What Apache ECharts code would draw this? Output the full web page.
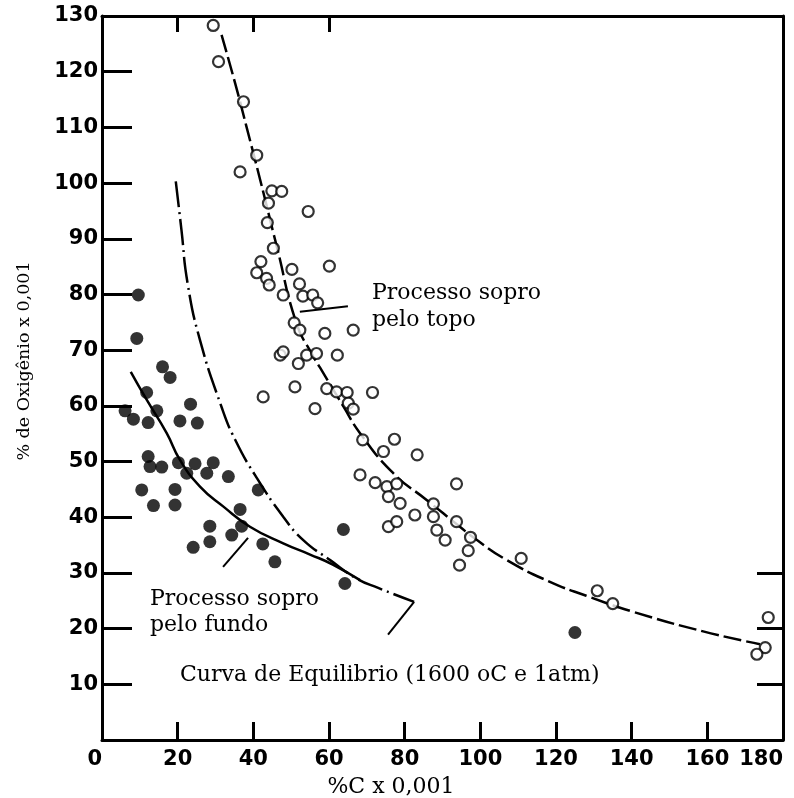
<!DOCTYPE html>
<html>
<head>
<meta charset="utf-8">
<script src="https://cdn.jsdelivr.net/npm/echarts@6/dist/echarts.min.js"></script>
<style>
  html, body { margin: 0; padding: 0; background: #fff; }
  #chart { width: 794px; height: 798px; }
</style>
</head>
<body>
<div id="chart"></div>
<script>
// pontos: [%C x 0,001, %O x 0,001]
var topoPoints = [
  [29.4, 128.3], [30.8, 121.8], [37.4, 114.6], [40.9, 105.0], [36.5, 102.0],
  [44.9, 98.6], [47.5, 98.5], [44.0, 96.4], [54.5, 94.9], [43.7, 92.9],
  [45.3, 88.3], [42.0, 85.9], [60.1, 85.1], [40.9, 83.9], [43.5, 82.9],
  [44.2, 81.7], [50.2, 84.5], [52.2, 81.9], [47.9, 79.9], [53.1, 79.7],
  [55.7, 79.9], [57.0, 78.5], [50.8, 74.9], [52.3, 73.6], [58.9, 73.0],
  [66.4, 73.6], [47.1, 69.1], [47.9, 69.7], [51.9, 67.6], [54.1, 69.1],
  [56.7, 69.4], [62.2, 69.1], [42.6, 61.6], [51.0, 63.4], [56.3, 59.5],
  [59.4, 63.1], [62.0, 62.5], [64.8, 62.4], [65.1, 60.5], [66.4, 59.4],
  [71.5, 62.4], [68.9, 53.9], [77.3, 54.0], [74.4, 51.8], [83.3, 51.2],
  [68.2, 47.6], [72.2, 46.2], [75.3, 45.5], [77.9, 46.0], [75.7, 43.7],
  [78.8, 42.5], [82.7, 40.4], [87.6, 42.4], [87.6, 40.1], [75.7, 38.3],
  [77.9, 39.2], [88.5, 37.7], [90.7, 35.9], [93.7, 46.0], [93.7, 39.2],
  [97.4, 36.4], [96.8, 34.0], [94.5, 31.4], [110.8, 32.6], [130.9, 26.8],
  [135.0, 24.5], [176.1, 22.0], [175.3, 16.6], [173.1, 15.4]
];
var fundoPoints = [
  [9.6, 79.9], [9.2, 72.1], [16.0, 67.0], [18.0, 65.1], [11.8, 62.4],
  [23.4, 60.3], [6.1, 59.1], [8.3, 57.6], [14.5, 59.1], [12.2, 57.0],
  [20.6, 57.3], [25.2, 56.9], [12.2, 50.9], [12.7, 49.1], [15.8, 49.0],
  [20.2, 49.8], [24.6, 49.6], [29.4, 49.8], [22.4, 47.9], [27.7, 47.9],
  [33.4, 47.3], [10.5, 44.9], [19.3, 45.0], [13.6, 42.1], [19.3, 42.2],
  [36.5, 41.4], [41.3, 44.9], [28.5, 38.4], [34.3, 36.8], [36.9, 38.4],
  [28.5, 35.6], [24.1, 34.6], [42.5, 35.2], [45.7, 32.0], [63.8, 37.8],
  [64.2, 28.1], [125.0, 19.3]
];
var topoCurve = [
  [31.6, 126.6], [35.2, 117.9], [38.2, 110.1], [41.8, 100.6], [46.2, 88.6],
  [51.4, 74.8], [55.4, 69.4], [57.6, 66.9], [63.8, 59.9], [68.2, 55.1],
  [77.0, 47.9], [85.8, 43.1], [94.6, 38.3], [98.1, 36.4], [107.0, 32.3],
  [118.4, 28.4], [128.0, 25.9], [140.0, 23.1], [158.9, 19.5], [173.9, 17.2]
];
var fundoCurve = [
  [7.6, 66.1], [11.8, 61.1], [17.1, 55.1], [20.6, 50.3], [25.9, 45.5],
  [32.1, 41.9], [39.1, 38.3], [47.9, 35.3], [55.0, 33.3], [61.0, 31.5],
  [68.2, 28.7]
];
var equilibrioCurve = [
  [19.5, 100.3], [21.0, 91.6], [22.6, 82.1], [25.9, 71.8], [31.6, 59.8],
  [35.2, 53.9], [40.5, 47.5], [47.9, 40.1], [53.2, 35.9], [60.3, 32.3],
  [67.3, 29.0], [73.0, 27.3], [82.5, 24.8]
];
// linhas de chamada das legendas
var leaderTopo = [[52.3, 76.9], [65.0, 77.9]];
var leaderFundo = [[32.0, 31.1], [38.6, 36.3]];
var leaderEquilibrio = [[75.6, 18.9], [82.5, 24.8]];

var xTicks = [0, 20, 40, 60, 80, 100, 120, 140, 160, 180];
var yTicks = [10, 20, 30, 40, 50, 60, 70, 80, 90, 100, 110, 120, 130];
var topTicks = [20, 40, 60];
var rightTicks = [10, 20, 30];

var myChart = echarts.init(document.getElementById('chart'));

var tickFont = { fontFamily: 'DejaVu Sans', fontWeight: 'bold', fontSize: 21, color: '#000' };

function leader (data) {
  return {
    type: 'line',
    data: data,
    symbol: 'none',
    silent: true,
    lineStyle: { color: '#000', width: 2 },
    z: 3
  };
}

var option = {
  backgroundColor: '#fff',
  animation: false,
  grid: { left: 102, right: 11, top: 16, bottom: 58, outerBoundsMode: 'none' },
  xAxis: [
    {
      type: 'value',
      min: 0,
      max: 180,
      interval: 20,
      position: 'bottom',
      splitLine: { show: false },
      axisLine: { onZero: false, lineStyle: { color: '#000', width: 3 } },
      axisTick: { inside: true, length: 18, lineStyle: { color: '#000', width: 3 } },
      axisLabel: Object.assign({ margin: 9, customValues: xTicks, alignMinLabel: 'right', alignMaxLabel: 'right' }, tickFont)
    },
    {
      type: 'value',
      min: 0,
      max: 180,
      position: 'top',
      splitLine: { show: false },
      axisLine: { onZero: false, lineStyle: { color: '#000', width: 3 } },
      axisTick: { show: true, inside: true, length: 16, customValues: topTicks, lineStyle: { color: '#000', width: 3 } },
      axisLabel: { show: false, customValues: topTicks }
    }
  ],
  yAxis: [
    {
      type: 'value',
      min: 0,
      max: 130,
      interval: 10,
      position: 'left',
      splitLine: { show: false },
      axisLine: { onZero: false, lineStyle: { color: '#000', width: 3 } },
      axisTick: { inside: true, length: 30, customValues: yTicks, lineStyle: { color: '#000', width: 3 } },
      axisLabel: Object.assign({ margin: 4, customValues: yTicks }, tickFont)
    },
    {
      type: 'value',
      min: 0,
      max: 130,
      position: 'right',
      splitLine: { show: false },
      axisLine: { onZero: false, lineStyle: { color: '#000', width: 3 } },
      axisTick: { inside: true, length: 26, customValues: rightTicks, lineStyle: { color: '#000', width: 3 } },
      axisLabel: { show: false, customValues: rightTicks }
    }
  ],
  graphic: [
    {
      type: 'text', left: 372, top: 280,
      style: { text: 'Processo sopro\npelo topo', font: '22px "DejaVu Serif"', fill: '#000', lineHeight: 27 }
    },
    {
      type: 'text', left: 150, top: 586,
      style: { text: 'Processo sopro\npelo fundo', font: '22px "DejaVu Serif"', fill: '#000', lineHeight: 26 }
    },
    {
      type: 'text', left: 180, top: 664,
      style: { text: 'Curva de Equilibrio (1600 oC e 1atm)', font: '22px "DejaVu Serif"', fill: '#000' }
    },
    {
      type: 'text', x: 391, y: 787,
      style: { text: '%C x 0,001', font: '22px "DejaVu Serif"', fill: '#000', align: 'center', verticalAlign: 'middle' }
    },
    {
      type: 'text', x: 24, y: 361, rotation: Math.PI / 2,
      style: { text: '% de Oxigênio x 0,001', font: '17.5px "DejaVu Serif"', fill: '#000', align: 'center', verticalAlign: 'middle' }
    }
  ],
  series: [
    {
      name: 'topo curva',
      type: 'line',
      data: topoCurve,
      smooth: true,
      symbol: 'none',
      lineStyle: { color: '#000', width: 2.5, type: [18, 5] },
      z: 2
    },
    {
      name: 'fundo curva',
      type: 'line',
      data: fundoCurve,
      smooth: true,
      symbol: 'none',
      lineStyle: { color: '#000', width: 2.5 },
      z: 2
    },
    {
      name: 'equilibrio',
      type: 'line',
      data: equilibrioCurve,
      smooth: true,
      symbol: 'none',
      lineStyle: { color: '#000', width: 2.5, type: [26, 5, 2, 5] },
      z: 2
    },
    leader(leaderTopo),
    leader(leaderFundo),
    leader(leaderEquilibrio),
    {
      name: 'sopro pelo topo',
      type: 'scatter',
      data: topoPoints,
      symbol: 'circle',
      symbolSize: 11,
      itemStyle: { color: '#fff', borderColor: '#000', borderWidth: 2.2 },
      z: 4
    },
    {
      name: 'sopro pelo fundo',
      type: 'scatter',
      data: fundoPoints,
      symbol: 'circle',
      symbolSize: 13,
      itemStyle: { color: '#000' },
      z: 4
    }
  ]
};

myChart.setOption(option);
</script>
</body>
</html>
